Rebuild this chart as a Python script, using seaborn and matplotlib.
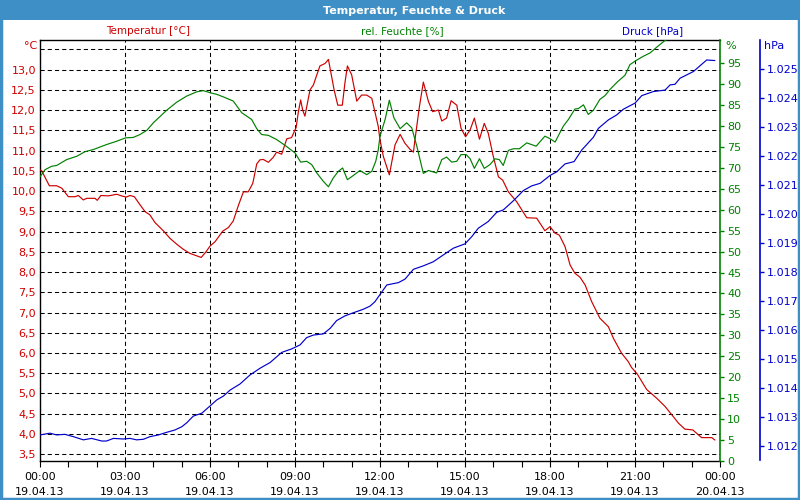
import numpy as np
import pandas as pd
import matplotlib
matplotlib.use("Agg")
import matplotlib.pyplot as plt
from matplotlib.patches import Rectangle
from matplotlib.ticker import FixedLocator, FuncFormatter
import seaborn as sns

# ---------------- data ----------------
temp_h = [0.00, 0.06, 0.33, 0.59, 0.77, 1.00, 1.24, 1.35, 1.53, 1.65, 1.94, 2.02, 2.15, 2.41, 2.71, 2.88,
          3.04, 3.18, 3.33, 3.53, 3.71, 3.88, 4.06, 4.35, 4.59, 4.82, 5.06, 5.29, 5.53, 5.69, 5.86, 6.00,
          6.18, 6.45, 6.65, 6.82, 7.00, 7.18, 7.35, 7.51, 7.65, 7.76, 7.88, 8.06, 8.23, 8.35, 8.53, 8.71,
          8.88, 9.04, 9.12, 9.20, 9.27, 9.35, 9.53, 9.65, 9.77, 9.88, 10.06, 10.18, 10.26, 10.38, 10.51,
          10.67, 10.76, 10.85, 11.00, 11.18, 11.35, 11.53, 11.71, 11.82, 11.94, 12.00, 12.12, 12.33, 12.53,
          12.71, 12.88, 13.06, 13.18, 13.24, 13.39, 13.53, 13.71, 13.86, 14.06, 14.18, 14.35, 14.51, 14.71,
          14.86, 15.02, 15.18, 15.33, 15.51, 15.68, 15.82, 16.00, 16.18, 16.33, 16.53, 16.82, 17.18, 17.53,
          17.82, 18.00, 18.18, 18.33, 18.53, 18.71, 18.88, 19.06, 19.24, 19.47, 19.76, 20.06, 20.24, 20.53,
          20.76, 20.88, 21.08, 21.41, 21.77, 22.06, 22.35, 22.53, 22.76, 23.04, 23.35, 23.71, 23.82]
temp_c = [10.52, 10.50, 10.13, 10.13, 10.07, 9.86, 9.86, 9.89, 9.78, 9.82, 9.82, 9.77, 9.89, 9.88, 9.92, 9.88,
          9.85, 9.89, 9.86, 9.66, 9.49, 9.41, 9.22, 9.02, 8.83, 8.69, 8.56, 8.46, 8.40, 8.36, 8.50, 8.64,
          8.75, 9.01, 9.10, 9.26, 9.64, 9.98, 9.98, 10.19, 10.67, 10.77, 10.78, 10.71, 10.83, 10.96, 10.91, 11.29,
          11.32, 11.57, 11.96, 12.25, 12.00, 11.85, 12.50, 12.62, 12.87, 13.09, 13.15, 13.25, 12.95, 12.50, 12.12,
          12.12, 12.66, 13.09, 12.87, 12.22, 12.37, 12.37, 12.29, 11.96, 11.59, 11.26, 10.85, 10.40, 11.14,
          11.40, 11.18, 11.03, 10.96, 11.30, 12.08, 12.69, 12.21, 11.96, 12.00, 11.73, 11.80, 12.23, 12.12,
          11.55, 11.34, 11.51, 11.80, 11.28, 11.67, 11.43, 10.85, 10.35, 10.27, 9.98, 9.74, 9.34, 9.33,
          9.02, 9.12, 8.96, 8.91, 8.63, 8.17, 7.97, 7.87, 7.68, 7.27, 6.86, 6.65, 6.36, 5.99,
          5.79, 5.64, 5.48, 5.10, 4.88, 4.68, 4.43, 4.27, 4.12, 4.10, 3.91, 3.91, 3.85]

hum_h = [0.00, 0.18, 0.41, 0.59, 0.94, 1.30, 1.59, 1.88, 2.35, 2.71, 3.02, 3.29, 3.53, 3.77, 4.00, 4.47,
         4.82, 5.18, 5.53, 5.76, 6.00, 6.24, 6.47, 6.82, 7.12, 7.47, 7.65, 7.82, 8.06, 8.35, 8.65, 9.00,
         9.20, 9.41, 9.59, 9.77, 10.00, 10.18, 10.35, 10.53, 10.68, 10.85, 11.06, 11.29, 11.53, 11.71,
         11.85, 11.94, 12.00, 12.18, 12.33, 12.49, 12.71, 12.94, 13.12, 13.30, 13.53, 13.71, 14.00, 14.18,
         14.35, 14.53, 14.71, 14.86, 15.04, 15.18, 15.33, 15.51, 15.68, 15.88, 16.06, 16.21, 16.35, 16.53,
         16.71, 16.92, 17.18, 17.51, 17.82, 18.00, 18.18, 18.47, 18.65, 18.88, 19.00, 19.18, 19.35, 19.53,
         19.76, 19.94, 20.12, 20.35, 20.65, 20.82, 21.04, 21.29, 21.53, 21.77, 22.06, 22.50, 23.00, 23.82]
hum_pct = [67.9, 69.6, 70.4, 70.6, 72.0, 72.8, 73.9, 74.4, 75.6, 76.4, 77.2, 77.3, 78.0, 79.0, 80.8, 83.8,
           85.7, 87.2, 88.2, 88.5, 88.0, 87.6, 87.0, 86.0, 83.2, 81.6, 79.4, 78.0, 77.8, 76.8, 75.4, 73.6,
           71.4, 71.6, 70.8, 68.8, 66.8, 65.5, 67.6, 69.2, 70.0, 67.2, 68.2, 69.4, 68.4, 69.2,
           71.6, 74.4, 77.6, 81.6, 86.2, 82.0, 79.4, 80.8, 79.6, 75.2, 68.7, 69.4, 68.8, 72.0,
           72.6, 71.4, 71.6, 73.2, 73.2, 72.2, 69.9, 72.2, 69.9, 70.8, 72.2, 72.0, 70.6, 74.2,
           74.6, 74.6, 76.0, 75.2, 77.6, 77.0, 76.2, 80.0, 81.6, 84.1, 84.2, 85.1, 82.8, 83.8,
           86.4, 87.3, 88.8, 90.4, 92.2, 94.7, 95.7, 96.7, 97.5, 98.9, 100.5, 101.8, 103.0, 104.5]

pres_h = [0.00, 0.35, 0.59, 0.88, 1.18, 1.53, 1.82, 2.18, 2.35, 2.59, 2.94, 3.18, 3.41, 3.65, 3.88, 4.18,
          4.47, 4.76, 5.00, 5.18, 5.41, 5.71, 6.00, 6.24, 6.47, 6.71, 7.06, 7.41, 7.76, 8.12, 8.53, 8.88,
          9.18, 9.41, 9.65, 10.00, 10.24, 10.47, 10.76, 11.06, 11.41, 11.65, 11.82, 12.00, 12.24, 12.65,
          12.88, 13.18, 13.53, 13.88, 14.24, 14.59, 15.00, 15.24, 15.47, 15.82, 16.12, 16.35, 16.71, 17.06,
          17.35, 17.65, 18.00, 18.24, 18.53, 18.85, 19.12, 19.53, 19.71, 20.06, 20.35, 20.59, 21.00, 21.24,
          21.65, 22.06, 22.24, 22.41, 22.59, 23.06, 23.53, 23.82]
pres_hpa = [1.01237, 1.01243, 1.01237, 1.01239, 1.01231, 1.01220, 1.01225, 1.01216, 1.01216, 1.01225,
            1.01223, 1.01225, 1.01220, 1.01222, 1.01231, 1.01237, 1.01246, 1.01254, 1.01265, 1.01279,
            1.01302, 1.01312, 1.01337, 1.01358, 1.01371, 1.01392, 1.01413, 1.01444, 1.01467, 1.01487,
            1.01522, 1.01534, 1.01548, 1.01573, 1.01582, 1.01586, 1.01605, 1.01632, 1.01648, 1.01659,
            1.01671, 1.01682, 1.01697, 1.01722, 1.01755, 1.01763, 1.01775, 1.01809, 1.01821, 1.01835,
            1.01859, 1.01882, 1.01897, 1.01922, 1.01951, 1.01974, 1.02006, 1.02014, 1.02046, 1.02081,
            1.02097, 1.02106, 1.02133, 1.02146, 1.02173, 1.02181, 1.02221, 1.02265, 1.02296, 1.02325,
            1.02342, 1.02362, 1.02383, 1.02409, 1.02423, 1.02428, 1.02446, 1.02448, 1.02469, 1.02492,
            1.02532, 1.02530]

x_ticks = [0, 3, 6, 9, 12, 15, 18, 21, 24]
x_labels = ["00:00\n19.04.13", "03:00\n19.04.13", "06:00\n19.04.13", "09:00\n19.04.13",
            "12:00\n19.04.13", "15:00\n19.04.13", "18:00\n19.04.13", "21:00\n19.04.13",
            "00:00\n20.04.13"]
temp_ticks = [3.5 + 0.5 * i for i in range(20)]      # 3.5 ... 13.0
temp_grid = [3.5 + 0.5 * i for i in range(21)]       # 3.5 ... 13.5
hum_ticks = list(range(0, 100, 5))
pres_ticks = [1.012 + 0.001 * i for i in range(14)]

title = "Temperatur, Feuchte & Druck"

# ---------------- style ----------------
sns.set_theme(style="white")
plt.rcParams['font.family'] = ['DejaVu Sans']
plt.rcParams['lines.scale_dashes'] = False

RED = "#cc0000"
GREEN = "#008000"
BLUE = "#0000cc"
BAR = "#3d8fc6"

fig = plt.figure(figsize=(8, 5), dpi=100, facecolor="white")
ax = fig.add_axes([40/800, 1 - 460.7/500, 680/800, (460.7 - 40)/500])
ax.set_facecolor("white")

df_t = pd.DataFrame({"h": temp_h, "v": temp_c})
df_f = pd.DataFrame({"h": hum_h, "v": hum_pct})
df_p = pd.DataFrame({"h": pres_h, "v": pres_hpa})

LW = 0.85

# temperature (left axis)
sns.lineplot(data=df_t, x="h", y="v", ax=ax, color=RED, linewidth=LW,
             estimator=None, sort=False, zorder=3)
ax.set_xlim(0, 24)
ax.set_ylim(3.34, 13.73)
ax.set_xlabel("")
ax.set_ylabel("")

ax.yaxis.set_major_locator(FixedLocator(temp_grid))
ax.yaxis.set_major_formatter(FuncFormatter(
    lambda v, p: "" if v > 13.25 else f"{v:.1f}".replace(".", ",")))
ax.tick_params(axis="y", length=0, pad=3, labelsize=8, labelcolor=RED)
ax.set_xticks(x_ticks)
ax.set_xticklabels(x_labels, linespacing=1.6)
ax.set_xticks(range(25), minor=True)
ax.tick_params(axis="x", which="both", direction="out", length=4, width=0.8,
               color="black", bottom=True, labelsize=8, labelcolor="black", pad=4)
ax.grid(True, axis="both", color="black", linestyle=(0, (3.0, 2.2)), linewidth=0.75)
for s in ["left", "bottom", "top"]:
    ax.spines[s].set_color("black")
    ax.spines[s].set_linewidth(1.0)
ax.spines["right"].set_visible(False)

# humidity (right axis)
ax2 = ax.twinx()
sns.lineplot(data=df_f, x="h", y="v", ax=ax2, color=GREEN, linewidth=LW,
             estimator=None, sort=False)
ax2.set_ylim(0, 100.6)
ax2.set_ylabel("")
ax2.set_xlabel("")
ax2.set_yticks(hum_ticks)
ax2.set_yticklabels([str(v) for v in hum_ticks])
ax2.tick_params(axis="y", direction="out", length=3, width=1, color=GREEN,
                labelsize=8, labelcolor=GREEN, pad=2, right=True)
ax2.grid(False)
for s in ["left", "top", "bottom"]:
    ax2.spines[s].set_visible(False)
ax2.spines["right"].set_color(GREEN)
ax2.spines["right"].set_linewidth(1.2)

# pressure (outer right axis)
ax3 = ax.twinx()
sns.lineplot(data=df_p, x="h", y="v", ax=ax3, color=BLUE, linewidth=LW,
             estimator=None, sort=False)
ax3.set_ylim(1.01148, 1.02601)
ax3.set_ylabel("")
ax3.set_xlabel("")
ax3.set_yticks(pres_ticks)
ax3.set_yticklabels([f"{v:.3f}" for v in pres_ticks])
ax3.tick_params(axis="y", direction="out", length=3, width=1, color=BLUE,
                labelsize=8, labelcolor=BLUE, pad=2, right=True)
ax3.grid(False)
for s in ["left", "top", "bottom"]:
    ax3.spines[s].set_visible(False)
ax3.spines["right"].set_position(("axes", 720/680))
ax3.spines["right"].set_color(BLUE)
ax3.spines["right"].set_linewidth(1.2)
ax3.spines["right"].set_bounds(1.0115, 1.0260)
ax2.set_xlim(0, 24)
ax3.set_xlim(0, 24)

# title bar and frame
fig.patches.append(Rectangle((0, 1 - 20/500), 1, 20/500, transform=fig.transFigure,
                             facecolor=BAR, edgecolor="none", zorder=0))
fig.patches.append(Rectangle((0.001, 0.002), 0.998, 0.997, transform=fig.transFigure,
                             facecolor="none", edgecolor=BAR, linewidth=2.5, zorder=0))
fig.text(414/800, 1 - 10.5/500, title, ha="center", va="center", color="white",
         fontsize=8, fontweight="bold")

# series headers
fig.text(148/800, 1 - 31/500, "Temperatur [°C]", ha="center", va="center", color=RED, fontsize=7.5)
fig.text(402/800, 1 - 31/500, "rel. Feuchte [%]", ha="center", va="center", color=GREEN, fontsize=7.5)
fig.text(653/800, 1 - 31/500, "Druck [hPa]", ha="center", va="center", color=BLUE, fontsize=7.5)

# unit labels
fig.text(37/800, 1 - 46/500, "°C", ha="right", va="center", color=RED, fontsize=8)
fig.text(725/800, 1 - 46/500, "%", ha="left", va="center", color=GREEN, fontsize=8)
fig.text(764/800, 1 - 46/500, "hPa", ha="left", va="center", color=BLUE, fontsize=8)

fig.savefig("out.png", dpi=100, facecolor="white")
